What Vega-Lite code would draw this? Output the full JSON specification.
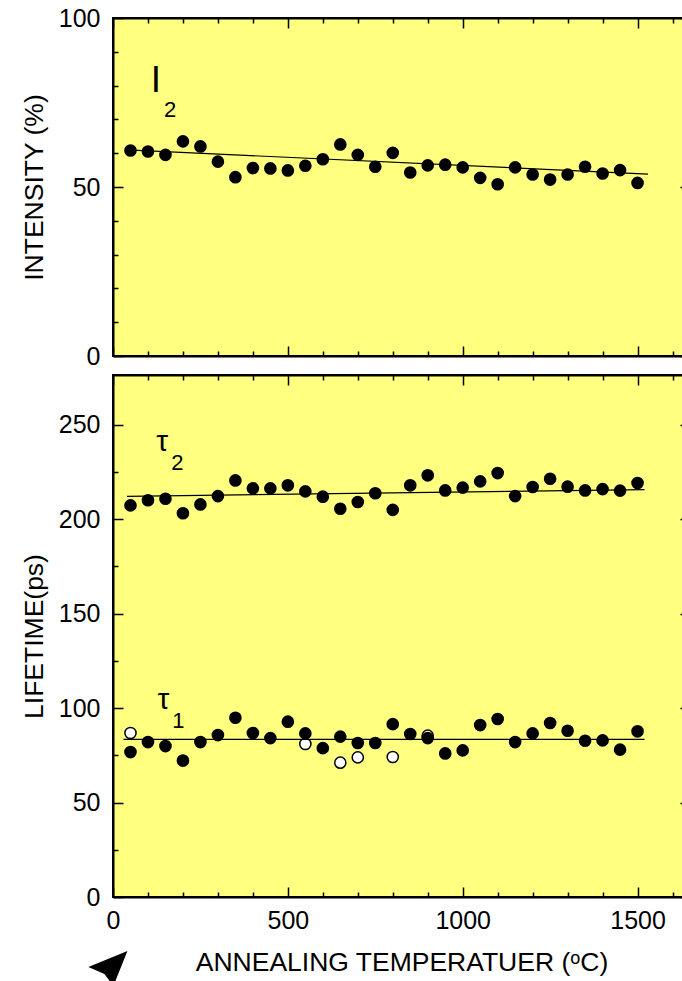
{
  "$schema": "https://vega.github.io/schema/vega-lite/v6.json",
  "background": "white",
  "padding": {"left": 20, "top": 5, "right": 0, "bottom": 0},
  "spacing": 3,
  "config": {
    "font": "Liberation Sans",
    "view": {"fill": "#FFFF80", "stroke": "black", "strokeWidth": 2},
    "axis": {
      "labelFont": "Liberation Sans", "labelFontSize": 25, "labelColor": "black",
      "titleFont": "Liberation Sans", "titleFontSize": 26.5, "titleFontWeight": "normal", "titleColor": "black",
      "domainColor": "black", "domainWidth": 2, "tickColor": "black", "tickWidth": 1.5,
      "grid": false, "labelFlush": false, "labelOverlap": false
    }
  },
  "datasets": {
    "i2": [
      {"temp": 50, "value": 60.8}, {"temp": 100, "value": 60.5}, {"temp": 150, "value": 59.5},
      {"temp": 200, "value": 63.5}, {"temp": 250, "value": 62.0}, {"temp": 300, "value": 57.5},
      {"temp": 350, "value": 52.9}, {"temp": 400, "value": 55.6}, {"temp": 450, "value": 55.5},
      {"temp": 500, "value": 54.9}, {"temp": 550, "value": 56.3}, {"temp": 600, "value": 58.2},
      {"temp": 650, "value": 62.6}, {"temp": 700, "value": 59.5}, {"temp": 750, "value": 56.0},
      {"temp": 800, "value": 60.1}, {"temp": 850, "value": 54.3}, {"temp": 900, "value": 56.4},
      {"temp": 950, "value": 56.6}, {"temp": 1000, "value": 55.8}, {"temp": 1050, "value": 52.7},
      {"temp": 1100, "value": 50.8}, {"temp": 1150, "value": 55.8}, {"temp": 1200, "value": 53.7},
      {"temp": 1250, "value": 52.2}, {"temp": 1300, "value": 53.7}, {"temp": 1350, "value": 56.0},
      {"temp": 1400, "value": 54.0}, {"temp": 1450, "value": 55.0}, {"temp": 1500, "value": 51.2}
    ],
    "i2fit": [{"temp": 40, "value": 61.0}, {"temp": 1530, "value": 53.8}],
    "tau": [
      {"series": "tau2", "temp": 50, "value": 207.3}, {"series": "tau2", "temp": 100, "value": 210.0},
      {"series": "tau2", "temp": 150, "value": 210.8}, {"series": "tau2", "temp": 200, "value": 203.1},
      {"series": "tau2", "temp": 250, "value": 207.8}, {"series": "tau2", "temp": 300, "value": 212.2},
      {"series": "tau2", "temp": 350, "value": 220.5}, {"series": "tau2", "temp": 400, "value": 216.3},
      {"series": "tau2", "temp": 450, "value": 216.3}, {"series": "tau2", "temp": 500, "value": 217.9},
      {"series": "tau2", "temp": 550, "value": 214.7}, {"series": "tau2", "temp": 600, "value": 211.9},
      {"series": "tau2", "temp": 650, "value": 205.5}, {"series": "tau2", "temp": 700, "value": 209.1},
      {"series": "tau2", "temp": 750, "value": 213.7}, {"series": "tau2", "temp": 800, "value": 204.9},
      {"series": "tau2", "temp": 850, "value": 217.9}, {"series": "tau2", "temp": 900, "value": 223.2},
      {"series": "tau2", "temp": 950, "value": 215.2}, {"series": "tau2", "temp": 1000, "value": 216.7},
      {"series": "tau2", "temp": 1050, "value": 220.0}, {"series": "tau2", "temp": 1100, "value": 224.4},
      {"series": "tau2", "temp": 1150, "value": 212.2}, {"series": "tau2", "temp": 1200, "value": 217.0},
      {"series": "tau2", "temp": 1250, "value": 221.4}, {"series": "tau2", "temp": 1300, "value": 217.2},
      {"series": "tau2", "temp": 1350, "value": 215.2}, {"series": "tau2", "temp": 1400, "value": 215.9},
      {"series": "tau2", "temp": 1450, "value": 215.1}, {"series": "tau2", "temp": 1500, "value": 219.1},
      {"series": "tau1", "temp": 50, "value": 76.7}, {"series": "tau1", "temp": 100, "value": 82.0},
      {"series": "tau1", "temp": 150, "value": 79.9}, {"series": "tau1", "temp": 200, "value": 72.2},
      {"series": "tau1", "temp": 250, "value": 82.0}, {"series": "tau1", "temp": 300, "value": 85.7},
      {"series": "tau1", "temp": 350, "value": 94.9}, {"series": "tau1", "temp": 400, "value": 86.8},
      {"series": "tau1", "temp": 450, "value": 84.1}, {"series": "tau1", "temp": 500, "value": 92.8},
      {"series": "tau1", "temp": 550, "value": 86.6}, {"series": "tau1", "temp": 600, "value": 78.8},
      {"series": "tau1", "temp": 650, "value": 84.9}, {"series": "tau1", "temp": 700, "value": 81.5},
      {"series": "tau1", "temp": 750, "value": 81.5}, {"series": "tau1", "temp": 800, "value": 91.5},
      {"series": "tau1", "temp": 850, "value": 86.3}, {"series": "tau1", "temp": 900, "value": 84.1},
      {"series": "tau1", "temp": 950, "value": 76.0}, {"series": "tau1", "temp": 1000, "value": 77.6},
      {"series": "tau1", "temp": 1050, "value": 91.0}, {"series": "tau1", "temp": 1100, "value": 94.2},
      {"series": "tau1", "temp": 1150, "value": 82.0}, {"series": "tau1", "temp": 1200, "value": 86.6},
      {"series": "tau1", "temp": 1250, "value": 92.1}, {"series": "tau1", "temp": 1300, "value": 88.0},
      {"series": "tau1", "temp": 1350, "value": 82.7}, {"series": "tau1", "temp": 1400, "value": 82.9},
      {"series": "tau1", "temp": 1450, "value": 78.0}, {"series": "tau1", "temp": 1500, "value": 87.7}
    ],
    "tauopen": [
      {"temp": 50, "value": 86.8}, {"temp": 550, "value": 81.0}, {"temp": 650, "value": 71.1},
      {"temp": 700, "value": 73.9}, {"temp": 800, "value": 74.1}, {"temp": 900, "value": 85.4}
    ],
    "taufit": [
      {"series": "tau2", "temp": 40, "value": 212.1}, {"series": "tau2", "temp": 1520, "value": 215.6},
      {"series": "tau1", "temp": 30, "value": 83.4}, {"series": "tau1", "temp": 1520, "value": 83.4}
    ],
    "toplabel": [{"temp": 123, "value": 81.4, "label": "I"}],
    "topsub": [{"temp": 163, "value": 72.9, "label": "2"}],
    "botlabel": [{"temp": 140.6, "value": 240.8, "label": "τ"}, {"temp": 144, "value": 104.1, "label": "τ"}],
    "botsub": [{"temp": 184, "value": 229.7, "label": "2"}, {"temp": 187, "value": 92.9, "label": "1"}],
    "cursor": [{"temp": -16, "value": -37}]
  },
  "vconcat": [
    {
      "width": 577,
      "height": 338,
      "layer": [
        {
          "data": {"name": "i2"},
          "mark": {"type": "circle", "size": 160, "color": "black", "opacity": 1},
          "encoding": {
            "x": {"field": "temp", "type": "quantitative",
              "scale": {"domain": [0, 1650], "nice": false, "zero": false},
              "axis": {"orient": "bottom", "title": null, "labels": false,
                "values": [0,100,200,300,400,500,600,700,800,900,1000,1100,1200,1300,1400,1500,1600],
                "tickSize": {"condition": {"test": "datum.value % 500 === 0", "value": -10}, "value": -5}}},
            "y": {"field": "value", "type": "quantitative",
              "scale": {"domain": [0, 100], "nice": false},
              "axis": {"orient": "left", "title": "INTENSITY (%)", "titlePadding": 10, "labelPadding": 23, "format": "d",
                "values": [0,10,20,30,40,50,60,70,80,90,100],
                "labelExpr": "datum.value % 50 === 0 ? datum.label : ''",
                "tickSize": {"condition": {"test": "datum.value % 50 === 0", "value": -10}, "value": -5}}}
          }
        },
        {
          "data": {"name": "i2fit"},
          "mark": {"type": "line", "color": "black", "strokeWidth": 1.2},
          "encoding": {
            "x": {"field": "temp", "type": "quantitative",
              "axis": {"orient": "top", "title": null, "labels": false,
                "values": [0,100,200,300,400,500,600,700,800,900,1000,1100,1200,1300,1400,1500,1600],
                "tickSize": {"condition": {"test": "datum.value % 500 === 0", "value": -10}, "value": -5}}},
            "y": {"field": "value", "type": "quantitative",
              "axis": {"orient": "right", "title": null, "labels": false,
                "values": [0,10,20,30,40,50,60,70,80,90,100],
                "tickSize": {"condition": {"test": "datum.value % 50 === 0", "value": -10}, "value": -5}}}
          }
        },
        {
          "data": {"name": "toplabel"},
          "mark": {"type": "text", "fontSize": 37, "color": "black", "align": "center", "baseline": "middle"},
          "encoding": {
            "x": {"field": "temp", "type": "quantitative", "axis": null},
            "y": {"field": "value", "type": "quantitative", "axis": null},
            "text": {"field": "label"}
          }
        },
        {
          "data": {"name": "topsub"},
          "mark": {"type": "text", "fontSize": 22, "color": "black", "align": "center", "baseline": "middle"},
          "encoding": {
            "x": {"field": "temp", "type": "quantitative", "axis": null},
            "y": {"field": "value", "type": "quantitative", "axis": null},
            "text": {"field": "label"}
          }
        }
      ],
      "resolve": {"axis": {"x": "independent", "y": "independent"}}
    },
    {
      "width": 577,
      "height": 522,
      "layer": [
        {
          "data": {"name": "tauopen"},
          "mark": {"type": "point", "filled": true, "fill": "white", "stroke": "black", "strokeWidth": 1.5, "size": 125, "opacity": 1},
          "encoding": {
            "x": {"field": "temp", "type": "quantitative",
              "scale": {"domain": [0, 1650], "nice": false, "zero": false},
              "axis": {"orient": "bottom", "title": "ANNEALING TEMPERATUER (ᵒC)", "titlePadding": 11, "labelPadding": 21, "format": "d",
                "values": [0,100,200,300,400,500,600,700,800,900,1000,1100,1200,1300,1400,1500,1600],
                "labelExpr": "datum.value % 500 === 0 ? datum.label : ''",
                "tickSize": {"condition": {"test": "datum.value % 500 === 0", "value": -10}, "value": -5}}},
            "y": {"field": "value", "type": "quantitative",
              "scale": {"domain": [0, 276.3], "nice": false},
              "axis": {"orient": "left", "title": "LIFETIME(ps)", "titlePadding": 10, "labelPadding": 23, "format": "d",
                "values": [0,25,50,75,100,125,150,175,200,225,250],
                "labelExpr": "datum.value % 50 === 0 ? datum.label : ''",
                "tickSize": {"condition": {"test": "datum.value % 50 === 0", "value": -10}, "value": -5}}}
          }
        },
        {
          "data": {"name": "tau"},
          "mark": {"type": "circle", "size": 160, "color": "black", "opacity": 1},
          "encoding": {
            "x": {"field": "temp", "type": "quantitative",
              "axis": {"orient": "top", "title": null, "labels": false,
                "values": [0,100,200,300,400,500,600,700,800,900,1000,1100,1200,1300,1400,1500,1600],
                "tickSize": {"condition": {"test": "datum.value % 500 === 0", "value": -10}, "value": -5}}},
            "y": {"field": "value", "type": "quantitative",
              "axis": {"orient": "right", "title": null, "labels": false,
                "values": [0,25,50,75,100,125,150,175,200,225,250],
                "tickSize": {"condition": {"test": "datum.value % 50 === 0", "value": -10}, "value": -5}}}
          }
        },
        {
          "data": {"name": "taufit"},
          "mark": {"type": "line", "color": "black", "strokeWidth": 1.2},
          "encoding": {
            "x": {"field": "temp", "type": "quantitative", "axis": null},
            "y": {"field": "value", "type": "quantitative", "axis": null},
            "detail": {"field": "series"}
          }
        },
        {
          "data": {"name": "botlabel"},
          "mark": {"type": "text", "fontSize": 30, "color": "black", "align": "center", "baseline": "middle"},
          "encoding": {
            "x": {"field": "temp", "type": "quantitative", "axis": null},
            "y": {"field": "value", "type": "quantitative", "axis": null},
            "text": {"field": "label"}
          }
        },
        {
          "data": {"name": "botsub"},
          "mark": {"type": "text", "fontSize": 22, "color": "black", "align": "center", "baseline": "middle"},
          "encoding": {
            "x": {"field": "temp", "type": "quantitative", "axis": null},
            "y": {"field": "value", "type": "quantitative", "axis": null},
            "text": {"field": "label"}
          }
        },
        {
          "data": {"name": "cursor"},
          "mark": {"type": "point", "filled": true, "color": "black", "opacity": 1, "size": 1600,
            "shape": "M1,-0.8L-0.95,0L-0.15,0.35L0.3,0.95Z"},
          "encoding": {
            "x": {"field": "temp", "type": "quantitative", "axis": null},
            "y": {"field": "value", "type": "quantitative", "axis": null}
          }
        }
      ],
      "resolve": {"axis": {"x": "independent", "y": "independent"}}
    }
  ]
}
